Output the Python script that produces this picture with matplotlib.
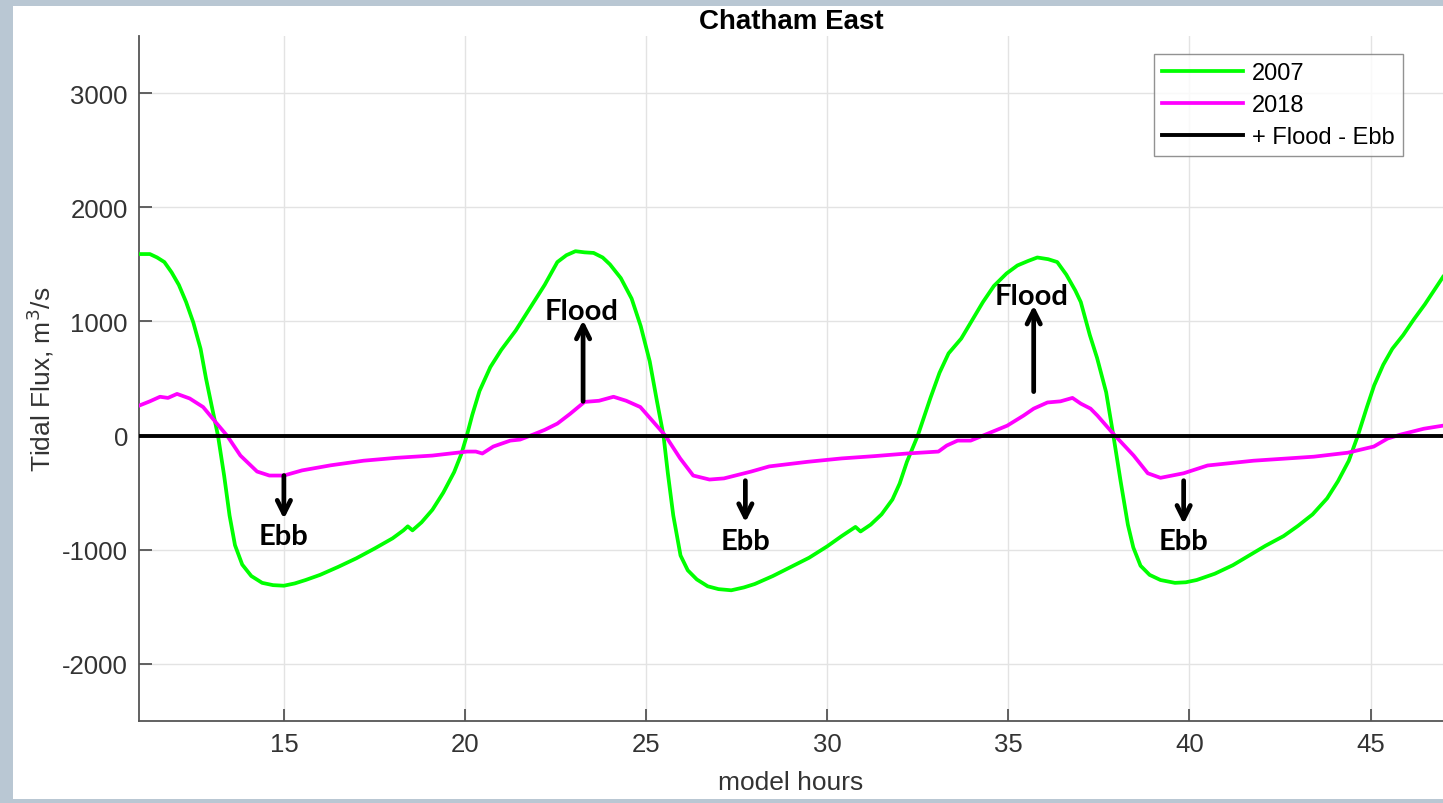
import numpy as np
import matplotlib
matplotlib.use("Agg")
import matplotlib.pyplot as plt
from matplotlib.patches import Rectangle

# 2007 tidal flux (model hours, m^3/s)
hours_2007 = [11.0, 11.3, 11.5, 11.7, 11.9, 12.1, 12.3, 12.5, 12.7, 12.85, 13.0, 13.18, 13.35, 13.5,
              13.65, 13.85, 14.1, 14.4, 14.7, 15.0, 15.3, 15.6, 16.0, 16.5, 17.0, 17.5, 18.0, 18.3,
              18.42, 18.55, 18.8, 19.1, 19.4, 19.7, 19.9, 20.05, 20.2, 20.4, 20.7, 21.0, 21.4, 21.8,
              22.2, 22.55, 22.8, 23.05, 23.3, 23.55, 23.8, 24.0, 24.3, 24.6, 24.85, 25.1, 25.3, 25.48,
              25.6, 25.75, 25.95, 26.15, 26.4, 26.7, 27.0, 27.35, 27.7, 28.0, 28.5, 29.0, 29.5, 30.0,
              30.4, 30.78, 30.92, 31.2, 31.5, 31.8, 32.0, 32.2, 32.5, 32.85, 33.1, 33.35, 33.7, 34.0,
              34.3, 34.6, 34.95, 35.25, 35.55, 35.8, 36.1, 36.35, 36.6, 36.85, 37.0, 37.25, 37.45,
              37.7, 37.9, 38.1, 38.3, 38.45, 38.65, 38.9, 39.2, 39.6, 39.9, 40.2, 40.7, 41.2, 41.7,
              42.1, 42.6, 43.0, 43.4, 43.8, 44.1, 44.4, 44.65, 44.9, 45.1, 45.35, 45.6, 45.9, 46.2,
              46.5, 46.75, 47.0]
flux_2007 = [1590, 1590, 1560, 1520, 1430, 1320, 1170, 990, 760, 500, 270, 0, -350, -700,
             -960, -1130, -1230, -1290, -1310, -1315, -1295, -1265, -1220, -1150, -1075, -990, -900, -830,
             -795, -830, -760, -650, -500, -320, -160, 0, 180, 390, 600, 750, 920, 1120,
             1320, 1520, 1580, 1615, 1605, 1600, 1560, 1500, 1380, 1200, 960, 650, 300, 0,
             -330, -700, -1050, -1180, -1260, -1320, -1345, -1355, -1330, -1300, -1230, -1150, -1070, -970,
             -880, -800, -840, -780, -690, -560, -420, -230, 0, 330, 550, 720, 850, 1010,
             1170, 1310, 1420, 1490, 1530, 1560, 1545, 1520, 1410, 1270, 1170, 880, 680,
             380, 0, -400, -780, -980, -1140, -1220, -1265, -1290, -1285, -1265, -1210, -1135, -1040,
             -965, -880, -790, -690, -550, -400, -220, 0, 250, 440, 620, 760, 880, 1020,
             1150, 1270, 1390]

# 2018 tidal flux
hours_2018 = [11.0, 11.3, 11.58, 11.8, 12.05, 12.4, 12.77, 13.15, 13.43, 13.8, 14.26, 14.6, 15.0, 15.5,
              16.3, 17.2, 18.1, 19.1, 20.06, 20.3, 20.48, 20.78, 21.25, 21.52, 21.88, 22.2, 22.55, 22.9,
              23.3, 23.7, 24.1, 24.45, 24.84, 25.2, 25.53, 25.94, 26.3, 26.75, 27.15, 27.9, 28.4, 29.45,
              30.4, 31.3, 32.2, 33.07, 33.3, 33.6, 33.96, 34.3, 34.97, 35.42, 35.7, 36.08, 36.44, 36.77,
              37.0, 37.27, 37.46, 37.9, 38.46, 38.85, 39.2, 39.84, 40.5, 41.77, 43.43, 44.37, 45.09, 45.47,
              45.83, 46.47, 47.0]
flux_2018 = [262, 300, 340, 330, 365, 325, 250, 105, 0, -175, -315, -350, -350, -305,
             -260, -220, -195, -175, -140, -140, -157, -96, -44, -35, 9, 50, 105, 190,
             295, 305, 340, 305, 250, 120, 0, -200, -350, -385, -375, -315, -270, -230,
             -200, -180, -157, -140, -87, -44, -44, 0, 87, 175, 236, 290, 300, 330,
             280, 236, 175, 15, -175, -330, -370, -330, -262, -220, -185, -150, -96, -26,
             9, 60, 87]

# annotation arrows: x, start y, tip y, label y
ebb_x = [15.0, 27.74, 39.84]
ebb_y0 = [-350, -395, -395]
ebb_y1 = [-730, -760, -775]
ebb_ty = [-880, -920, -920]
flood_x = [23.26, 35.7]
flood_y0 = [300, 385]
flood_y1 = [1010, 1140]
flood_ty = [1090, 1220]

plt.rcParams['font.family'] = ['Liberation Sans', 'DejaVu Sans']
plt.rcParams['axes.unicode_minus'] = False

fig = plt.figure(figsize=(14.43, 8.04), dpi=100, facecolor='#b9c7d3')
# white slide panel behind the chart
fig.patches.append(Rectangle((13 / 1443, 1 - 800 / 804), 1.0, (800 - 7) / 804,
                             transform=fig.transFigure, facecolor='white', edgecolor='none', zorder=-10))

ax = fig.add_axes([139 / 1443, 1 - 722 / 804, 1 - 139 / 1443, (722 - 37) / 804])
ax.set_facecolor('white')

ax.plot(hours_2007, flux_2007, color='#00ff00', lw=2.7, label='2007', zorder=3)
ax.plot(hours_2018, flux_2018, color='#ff00ff', lw=2.7, label='2018', zorder=3)
ax.axhline(0, color='black', lw=2.8, label='+ Flood - Ebb', zorder=4)

ann_font = dict(family=['Lato', 'DejaVu Sans'], fontweight='bold', fontsize=21, color='black')
for x, y0, y1, ty in zip(ebb_x, ebb_y0, ebb_y1, ebb_ty):
    ax.annotate('', xy=(x, y1), xytext=(x, y0),
                arrowprops=dict(arrowstyle='->', lw=3.4, color='black', mutation_scale=24,
                                shrinkA=0, shrinkB=0), zorder=5)
    ax.text(x, ty, 'Ebb', ha='center', va='center', **ann_font)
for x, y0, y1, ty in zip(flood_x, flood_y0, flood_y1, flood_ty):
    ax.annotate('', xy=(x, y1), xytext=(x, y0),
                arrowprops=dict(arrowstyle='->', lw=3.4, color='black', mutation_scale=24,
                                shrinkA=0, shrinkB=0), zorder=5)
    ax.text(x - 0.05, ty, 'Flood', ha='center', va='center', **ann_font)

ax.set_xlim(11, 47)
ax.set_ylim(-2500, 3500)
ax.set_xticks([15, 20, 25, 30, 35, 40, 45])
ax.set_yticks([-2000, -1000, 0, 1000, 2000, 3000])
ax.grid(True, color='#e3e3e3', lw=1.0)
ax.set_axisbelow(True)

for side in ['top', 'right']:
    ax.spines[side].set_visible(False)
for side in ['left', 'bottom']:
    ax.spines[side].set_color('#555555')
    ax.spines[side].set_linewidth(1.3)
ax.tick_params(direction='in', length=9, width=1.3, color='#555555',
               labelsize=18.5, labelcolor='#333333', pad=8)

ax.set_title('Chatham East', fontsize=20, fontweight='bold', color='black', pad=6)
ax.set_xlabel('model hours', fontsize=19, color='#333333', labelpad=10)
ax.set_ylabel('Tidal Flux, m$^3$/s', fontsize=19, color='#333333', labelpad=4)

leg = ax.legend(loc='upper right', bbox_to_anchor=(1 - 40 / 1304, 1 - 18 / 685), fontsize=17,
                frameon=True, fancybox=False, handlelength=3.4, borderpad=0.35,
                labelspacing=0.42, handletextpad=0.4, borderaxespad=0)
leg.get_frame().set_edgecolor('#777777')
leg.get_frame().set_linewidth(1.0)

fig.savefig('out.png', dpi=100, facecolor=fig.get_facecolor())
